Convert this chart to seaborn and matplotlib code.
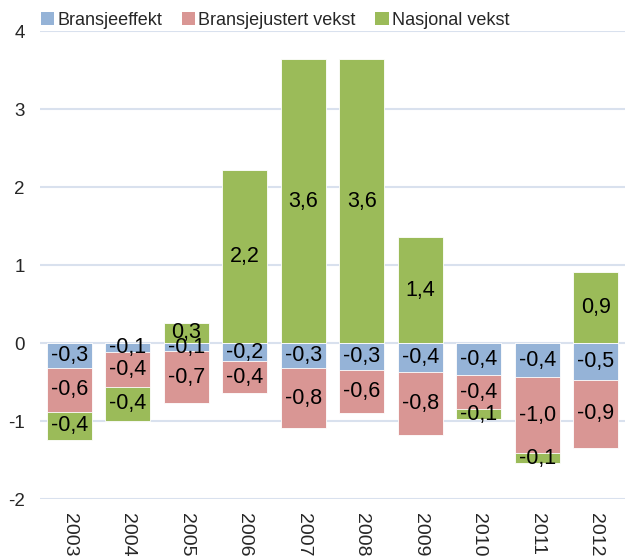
import numpy as np
import pandas as pd
import matplotlib
matplotlib.use("Agg")
import matplotlib.pyplot as plt
from matplotlib.patches import Patch
import seaborn as sns

years = ['2003', '2004', '2005', '2006', '2007', '2008', '2009', '2010', '2011', '2012']
bransjeeffekt = [-0.32, -0.12, -0.10, -0.23, -0.32, -0.34, -0.37, -0.41, -0.44, -0.47]
bransjejustert = [-0.56, -0.44, -0.67, -0.41, -0.77, -0.55, -0.81, -0.44, -0.97, -0.87]
nasjonal = [-0.36, -0.44, 0.26, 2.22, 3.64, 3.64, 1.36, -0.12, -0.13, 0.91]

series_names = ['Bransjeeffekt', 'Bransjejustert vekst', 'Nasjonal vekst']
colors = ['#95B3D7', '#D99694', '#9BBB59']

sns.set_theme(style="white")
plt.rcParams['font.family'] = ['Liberation Sans', 'DejaVu Sans']

df = pd.DataFrame({'year': years, 'b': bransjeeffekt, 'r': bransjejustert, 'g': nasjonal})

fig = plt.figure(figsize=(6.3, 5.59), dpi=100)
ax = fig.add_axes([0.0635, 0.107, 0.9285, 0.8375])

# stacking like Excel: negatives down from 0, positives up from 0
layers = []  # (series index, bottom, top)
vals = df[['b', 'r', 'g']].to_numpy()
neg_base = np.zeros(len(df))
pos_base = np.zeros(len(df))
for k in range(3):
    v = vals[:, k]
    bottom = np.where(v < 0, neg_base, pos_base)
    top = bottom + v
    layers.append((k, bottom, top))
    neg_base = np.where(v < 0, top, neg_base)
    pos_base = np.where(v >= 0, top, pos_base)

# draw outermost first, each bar starts at 0 and inner ones cover it
for k, bottom, top in reversed(layers):
    sns.barplot(x=df['year'], y=top, color=colors[k], width=0.77, ax=ax,
                edgecolor='white', linewidth=0.6, saturation=1, zorder=3)

for k, bottom, top in layers:
    for i in range(len(df)):
        mid = (bottom[i] + top[i]) / 2
        lab = f"{vals[i, k]:.1f}".replace('.', ',')
        ax.text(i, mid, lab, ha='center', va='center', fontsize=15.5, color='black', zorder=5)

ax.set_ylim(-2, 4)
ax.set_xlim(-0.5, 9.5)
ax.set_yticks([-2, -1, 0, 1, 2, 3, 4])
ax.set_yticklabels(['-2', '-1', '0', '1', '2', '3', '4'])
ax.grid(axis='y', color='#D9E1EE', linewidth=1.5, zorder=0)
ax.set_axisbelow(True)
for s in ax.spines.values():
    s.set_visible(False)
ax.tick_params(axis='y', length=0, pad=11, labelsize=13.5)
ax.tick_params(axis='x', length=0, pad=10, labelsize=14)
plt.setp(ax.get_xticklabels(), rotation=-90, va='top', ha='center')
ax.set_xlabel('')
ax.set_ylabel('')

handles = [Patch(facecolor=c, edgecolor='none') for c in colors]
fig.legend(handles, series_names, loc='center left', bbox_to_anchor=(0.065, 0.964),
           ncol=3, frameon=False, fontsize=13, handlelength=0.75, handleheight=0.75,
           handletextpad=0.15, columnspacing=1.1, borderaxespad=0, borderpad=0)

fig.savefig('out.png', dpi=100)
